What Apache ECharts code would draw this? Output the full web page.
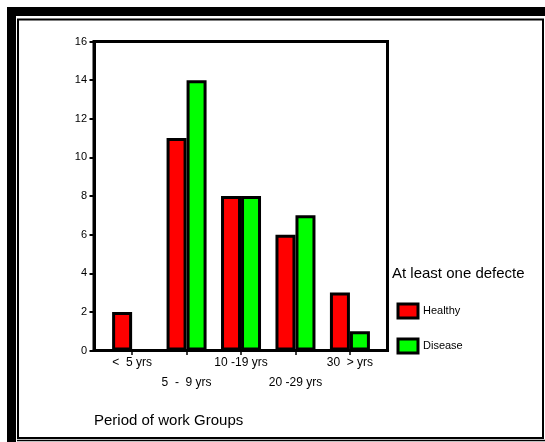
<!DOCTYPE html>
<html>
<head>
<meta charset="utf-8">
<script src="https://cdn.jsdelivr.net/npm/echarts@6/dist/echarts.min.js"></script>
<style>html,body{margin:0;padding:0;background:#fff}#c{width:545px;height:442px}</style>
</head>
<body>
<div id="c"></div>
<script>
const categories = ['<  5 yrs', '5  -  9 yrs', '10 -19 yrs', '20 -29 yrs', '30  > yrs'];
const healthy = [2, 11, 8, 6, 3];
const disease = [0, 14, 8, 7, 1];
const yTicks = [0, 2, 4, 6, 8, 10, 12, 14, 16];
const legendTitle = 'At least one defecte';
const xTitle = 'Period of work Groups';

const FF = '"Liberation Sans", Arial, sans-serif';
const idx = categories.map((c, i) => i);
const chart = echarts.init(document.getElementById('c'), null, {renderer: 'canvas'});
chart.setOption({
  animation: false,
  backgroundColor: '#fff',
  textStyle: {fontFamily: FF, color: '#000'},
  graphic: [
    {type: 'rect', shape: {x: 7, y: 7, width: 9, height: 435}, style: {fill: '#000'}, silent: true},
    {type: 'rect', shape: {x: 7, y: 7, width: 538, height: 9}, style: {fill: '#000'}, silent: true},
    {type: 'rect', shape: {x: 18, y: 19.5, width: 525, height: 418.5}, style: {fill: null, stroke: '#000', lineWidth: 2}, silent: true},
    {type: 'line', shape: {x1: 17, y1: 440.5, x2: 545, y2: 440.5}, style: {stroke: '#000', lineWidth: 1.5}, silent: true}
  ],
  title: [
    {text: legendTitle, left: 392, top: 266.5, padding: 0,
     textStyle: {fontSize: 15, fontWeight: 'normal', color: '#000', fontFamily: FF}},
    {text: xTitle, left: 94, top: 413.5, padding: 0,
     textStyle: {fontSize: 15, fontWeight: 'normal', color: '#000', fontFamily: FF}}
  ],
  legend: {
    orient: 'vertical', left: 396.5, top: 302.5, padding: 0,
    itemWidth: 20, itemHeight: 14, itemGap: 18,
    icon: 'rect',
    itemStyle: {borderColor: '#000', borderWidth: 3},
    textStyle: {fontSize: 11, color: '#000', fontFamily: FF, padding: [6, 0, 0, 0]}
  },
  grid: {left: 94, right: 157.5, top: 41.5, bottom: 91.5, show: true,
         borderColor: '#000', borderWidth: 3, backgroundColor: 'transparent'},
  xAxis: {
    type: 'value', min: -0.7, max: 4.69,
    splitLine: {show: false},
    axisLine: {show: true, onZero: false, lineStyle: {color: '#000', width: 3}},
    axisTick: {show: true, customValues: idx, length: 4.5, lineStyle: {color: '#000', width: 1.5}},
    axisLabel: {customValues: idx, margin: 2.5, fontSize: 12, lineHeight: 20, color: '#000', fontFamily: FF,
      formatter: v => { const i = Math.round(v); return i % 2 ? '\n' + categories[i] : categories[i]; }}
  },
  yAxis: {
    type: 'value', min: 0, max: 16, interval: 2,
    splitLine: {show: false},
    axisLine: {show: true, onZero: false, lineStyle: {color: '#000', width: 3}},
    axisTick: {show: true, length: 4.5, lineStyle: {color: '#000', width: 2}},
    axisLabel: {margin: 7, fontSize: 11, color: '#000', fontFamily: FF,
      formatter: v => yTicks.includes(v) ? String(v) : ''}
  },
  series: [
    {name: 'Healthy', type: 'bar', barWidth: 20, barGap: '0%',
     itemStyle: {color: '#ff0000', borderColor: '#000', borderWidth: 3},
     data: idx.map(i => [i, healthy[i]])},
    {name: 'Disease', type: 'bar', barWidth: 20, barGap: '0%',
     itemStyle: {color: '#00ff00', borderColor: '#000', borderWidth: 3},
     data: idx.map(i => [i, disease[i]])}
  ]
});
</script>
</body>
</html>
